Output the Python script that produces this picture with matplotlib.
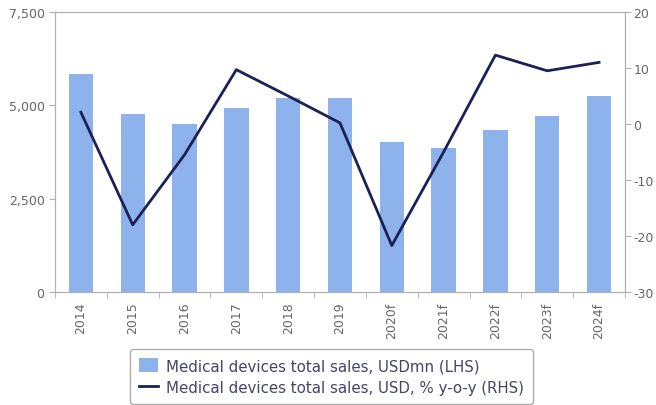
import numpy as np
import matplotlib
matplotlib.use('Agg')
import matplotlib.pyplot as plt
from matplotlib.ticker import FuncFormatter, FixedLocator

years = ['2014', '2015', '2016', '2017', '2018', '2019',
         '2020f', '2021f', '2022f', '2023f', '2024f']
sales_usdmn = [5850, 4760, 4500, 4920, 5200, 5200, 4030, 3850, 4340, 4720, 5260]
sales_yoy = [2.1, -18.0, -5.5, 9.7, 5.0, 0.2, -21.7, -5.0, 12.3, 9.5, 11.0]

bar_color = '#8db2ec'
line_color = '#1b2155'
grey = '#b0b0b0'
text_grey = '#666666'

plt.rcParams['axes.unicode_minus'] = False

fig = plt.figure(figsize=(6.56, 4.06), dpi=100)
ax1 = fig.add_axes([0.0838, 0.2783, 0.8689, 0.6897])
X = np.arange(len(years))

b = ax1.bar(X, sales_usdmn, width=0.47, color=bar_color,
            label='Medical devices total sales, USDmn (LHS)', zorder=2)
ax1.set_xlim(-0.5, len(X) - 0.5)
ax1.set_ylim(0, 7500)
ax1.set_yticks([0, 2500, 5000, 7500])
ax1.yaxis.set_major_formatter(FuncFormatter(lambda v, p: '{:,.0f}'.format(v)))
ax1.set_xticks(X)
ax1.set_xticklabels(years, rotation=90)
ax1.xaxis.set_minor_locator(FixedLocator(np.arange(-0.5, len(X), 1.0)))
ax1.tick_params(axis='x', which='major', length=0, labelsize=9,
                labelcolor=text_grey, pad=7)
ax1.tick_params(axis='x', which='minor', length=4, color=grey)
ax1.tick_params(axis='y', length=4, color=grey, labelsize=9,
                labelcolor=text_grey)

ax2 = ax1.twinx()
l, = ax2.plot(X, sales_yoy, color=line_color, linewidth=2,
              label='Medical devices total sales, USD, % y-o-y (RHS)', zorder=3)
ax2.set_ylim(-30, 20)
ax2.set_yticks(np.arange(-30, 21, 10))
ax2.tick_params(axis='y', length=4, color=grey, labelsize=9,
                labelcolor=text_grey, pad=2)

for ax in (ax1, ax2):
    for s in ax.spines.values():
        s.set_color(grey)
        s.set_linewidth(0.8)

leg = fig.legend([b, l], [b.get_label(), l.get_label()],
                 loc='upper center', bbox_to_anchor=(0.505, 0.138),
                 borderaxespad=0, fontsize=10.8, frameon=True, fancybox=True,
                 handlelength=1.3, handleheight=1.1, handletextpad=0.5,
                 borderpad=0.6, labelspacing=0.45)
leg.get_frame().set_edgecolor('#999999')
for t in leg.get_texts():
    t.set_color('#444466')

fig.savefig('out.png', dpi=100, facecolor='white')
